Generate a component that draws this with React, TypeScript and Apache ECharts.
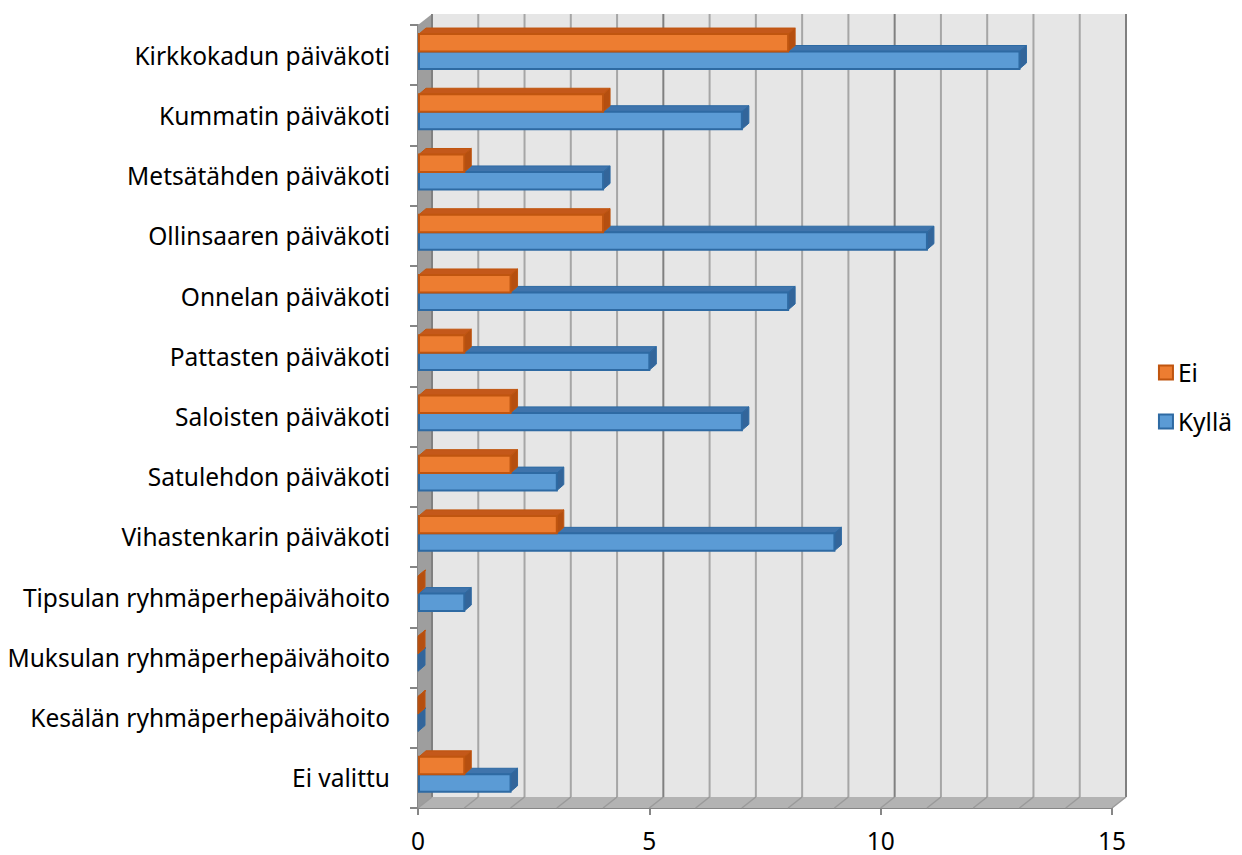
import React, { useEffect, useRef } from "react";
import * as echarts from "echarts";

const categories = [
  "Kirkkokadun päiväkoti",
  "Kummatin päiväkoti",
  "Metsätähden päiväkoti",
  "Ollinsaaren päiväkoti",
  "Onnelan päiväkoti",
  "Pattasten päiväkoti",
  "Saloisten päiväkoti",
  "Satulehdon päiväkoti",
  "Vihastenkarin päiväkoti",
  "Tipsulan ryhmäperhepäivähoito",
  "Muksulan ryhmäperhepäivähoito",
  "Kesälän ryhmäperhepäivähoito",
  "Ei valittu",
];
const eiValues = [8, 4, 1, 4, 2, 1, 2, 2, 3, 0, 0, 0, 1];
const kyllaValues = [13, 7, 4, 11, 8, 5, 7, 3, 9, 1, 0, 0, 2];
const seriesNames = ["Ei", "Kyllä"];
const xMin = 0;
const xMax = 15;
const xInterval = 5;

const FONT = "Noto Sans";
const FS = 24.5;
const DX = 14;
const DY = -11;
const BDX = 7;
const BDY = -6;

const STYLES: Record<string, any> = {
  Ei: { front: "#ED7D31", border: "#C0550F", top: "#C4581A", side: "#B54F10" },
  Kyllä: { front: "#5B9BD5", border: "#2E6AA3", top: "#3F74AC", side: "#33659A" },
};

function renderWalls(params: any, api: any) {
  const cs = params.coordSys;
  const x0 = cs.x;
  const x1 = cs.x + cs.width;
  const yT = cs.y;
  const yB = cs.y + cs.height;
  const children: any[] = [];
  children.push({
    type: "polygon",
    shape: { points: [[x0 + DX, yT + DY], [x1 + DX, yT + DY], [x1 + DX, yB + DY], [x0 + DX, yB + DY]] },
    style: { fill: "#e6e6e6" },
  });
  children.push({
    type: "polygon",
    shape: { points: [[x0, yT], [x0 + DX, yT + DY], [x0 + DX, yB + DY], [x0, yB]] },
    style: { fill: "#9e9e9e" },
  });
  children.push({
    type: "polygon",
    shape: { points: [[x0, yB], [x1, yB], [x1 + DX, yB + DY], [x0 + DX, yB + DY]] },
    style: { fill: "#b3b3b3" },
  });
  for (let v = xMin; v <= xMax; v++) {
    const x = api.coord([v, 0])[0];
    const major = v % xInterval === 0;
    children.push({
      type: "line",
      shape: { x1: x + DX, y1: yT + DY, x2: x + DX, y2: yB + DY },
      style: { stroke: major ? "#808080" : "#a6a6a6", lineWidth: 2 },
    });
    children.push({
      type: "line",
      shape: { x1: x, y1: yB, x2: x + DX, y2: yB + DY },
      style: { stroke: "#9a9a9a", lineWidth: 1.5 },
    });
  }
  return { type: "group", children };
}

function makeBarRender(name: string) {
  const st = STYLES[name];
  return (params: any, api: any) => {
    const v = api.value(0);
    const c = api.value(1);
    const p0 = api.coord([0, c]);
    const xs = p0[0] + 1;
    const cy = p0[1];
    const xe = api.coord([v, c])[0];
    const bh = api.size([0, 1])[1];
    const th = bh * 0.29;
    const mid = cy - bh * 0.06;
    let yTop: number, yBot: number;
    if (name === "Ei") {
      yTop = mid - th;
      yBot = mid;
    } else {
      yTop = mid;
      yBot = mid + th;
    }
    const children: any[] = [];
    children.push({
      type: "polygon",
      shape: { points: [[xs, yTop], [xe, yTop], [xe + BDX, yTop + BDY], [xs + BDX, yTop + BDY]] },
      style: { fill: st.top, stroke: st.border, lineWidth: 1 },
    });
    children.push({
      type: "polygon",
      shape: { points: [[xe, yTop], [xe + BDX, yTop + BDY], [xe + BDX, yBot + BDY], [xe, yBot]] },
      style: { fill: st.side, stroke: st.border, lineWidth: 1 },
    });
    if (xe - xs > 0.5) {
      children.push({
        type: "rect",
        shape: { x: xs, y: yTop, width: xe - xs, height: yBot - yTop },
        style: { fill: st.front, stroke: st.border, lineWidth: 2 },
      });
    }
    return { type: "group", children };
  };
}

export default function App() {
  const ref = useRef<HTMLDivElement>(null);
  useEffect(() => {
    if (!ref.current) return;
    const chart = echarts.init(ref.current, undefined, { renderer: "svg" });
    const option: any = {
      animation: false,
      backgroundColor: "#ffffff",
      grid: { left: 418, right: 130, top: 25, bottom: 47, containLabel: false },
      legend: {
        orient: "vertical",
        right: 10,
        top: 360,
        padding: 0,
        itemWidth: 14,
        itemHeight: 14,
        itemGap: 24,
        align: "left",
        textStyle: { fontFamily: FONT, fontSize: FS, color: "#000" },
        data: seriesNames.map((n) => ({
          name: n,
          icon: "rect",
          itemStyle: { color: STYLES[n].front, borderColor: STYLES[n].border, borderWidth: 2 },
        })),
      },
      xAxis: {
        type: "value",
        min: xMin,
        max: xMax,
        interval: xInterval,
        splitLine: { show: false },
        axisLine: { show: true, lineStyle: { color: "#868686", width: 2 } },
        axisTick: { show: true, length: 7, lineStyle: { color: "#868686", width: 2 } },
        axisLabel: { fontFamily: FONT, fontSize: FS, lineHeight: 24, color: "#000", margin: 20 },
      },
      yAxis: {
        type: "category",
        inverse: true,
        data: categories,
        axisLine: { show: true, lineStyle: { color: "#868686", width: 2 } },
        axisTick: { show: true, length: 8, lineStyle: { color: "#868686", width: 2 } },
        axisLabel: { fontFamily: FONT, fontSize: FS, color: "#000", margin: 28 },
        splitLine: { show: false },
      },
      series: [
        {
          type: "custom",
          name: "walls",
          silent: true,
          z: 1,
          renderItem: renderWalls,
          data: [[0, 0]],
          encode: { x: 0, y: 1 },
        },
        {
          type: "custom",
          name: "Kyllä",
          z: 2,
          itemStyle: { color: STYLES["Kyllä"].front },
          renderItem: makeBarRender("Kyllä"),
          data: kyllaValues.map((v, i) => [v, i]),
          encode: { x: 0, y: 1 },
        },
        {
          type: "custom",
          name: "Ei",
          z: 3,
          itemStyle: { color: STYLES["Ei"].front },
          renderItem: makeBarRender("Ei"),
          data: eiValues.map((v, i) => [v, i]),
          encode: { x: 0, y: 1 },
        },
      ],
    };
    chart.setOption(option);
    return () => chart.dispose();
  }, []);
  return (
    <div
      ref={ref}
      style={{ position: "fixed", left: 0, top: 0, width: 1242, height: 855, background: "#fff" }}
    />
  );
}
